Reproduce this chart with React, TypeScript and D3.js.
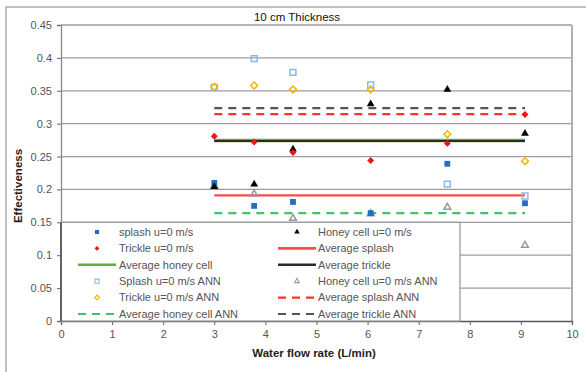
import React, { useEffect, useRef } from 'react';
import * as d3 from 'd3';

// Water flow rates (L/min) at which each cell type was tested
const flowRates = [3, 3.78, 4.54, 6.06, 7.56, 9.08];

// Measured effectiveness
const splash = [0.21, 0.175, 0.181, 0.164, 0.239, 0.179];
const honeyCell = [0.204, 0.208, 0.261, 0.33, 0.352, 0.285];
const trickle = [0.281, 0.272, 0.256, 0.244, 0.27, 0.314];

// ANN predictions
const splashAnn = [0.355, 0.399, 0.378, 0.359, 0.208, 0.19];
const honeyCellAnn = [0.205, 0.193, 0.156, 0.163, 0.173, 0.115];
const trickleAnn = [0.356, 0.358, 0.352, 0.352, 0.284, 0.243];

// Averages, drawn over the tested range
const averageRange = [3, 9.08];
const averageSplash = 0.191;
const averageHoneyCell = 0.2745;
const averageTrickle = 0.2735;
const averageSplashAnn = 0.3145;
const averageHoneyCellAnn = 0.164;
const averageTrickleAnn = 0.3235;

const xTicks = [0, 1, 2, 3, 4, 5, 6, 7, 8, 9, 10];
const yTicks = [0, 0.05, 0.1, 0.15, 0.2, 0.25, 0.3, 0.35, 0.4, 0.45];

const legendLabels = [
  'splash u=0 m/s',
  'Honey cell u=0 m/s',
  'Trickle u=0 m/s',
  'Average splash',
  'Average honey cell',
  'Average trickle',
  'Splash u=0 m/s ANN',
  'Honey cell u=0 m/s ANN',
  'Trickle u=0 m/s ANN',
  'Average splash ANN',
  'Average honey cell ANN',
  'Average trickle ANN',
];

const FONT = 'Liberation Sans, Arial, sans-serif';

const App = () => {
  const svgRef = useRef<SVGSVGElement>(null);
  const width = 586;
  const height = 372;

  useEffect(() => {
    const svg = d3.select(svgRef.current);
    svg.selectAll('*').remove();

    const x = d3.scaleLinear().domain([0, 10]).range([61, 572]);
    const y = d3.scaleLinear().domain([0, 0.45]).range([321, 25]);

    // outer chart border (runs off the picture on the right and bottom)
    svg
      .append('rect')
      .attr('x', 6)
      .attr('y', 7)
      .attr('width', 620)
      .attr('height', 400)
      .attr('fill', 'white')
      .attr('stroke', '#9a9a9a')
      .attr('stroke-width', 1.2);

    // title
    svg
      .append('text')
      .attr('x', 297)
      .attr('y', 21)
      .attr('text-anchor', 'middle')
      .style('font-family', FONT)
      .style('font-size', '11.5px')
      .style('fill', '#111')
      .text('10 cm Thickness');

    // gridlines
    svg
      .append('g')
      .selectAll('line')
      .data(yTicks.filter((t) => t > 0))
      .enter()
      .append('line')
      .attr('x1', x(0))
      .attr('x2', x(10))
      .attr('y1', (d) => y(d))
      .attr('y2', (d) => y(d))
      .attr('stroke', '#9c9c9c')
      .attr('stroke-width', 1.3);

    // plot area right border
    svg
      .append('line')
      .attr('x1', x(10))
      .attr('x2', x(10))
      .attr('y1', y(0.45))
      .attr('y2', y(0))
      .attr('stroke', '#b0b0b0')
      .attr('stroke-width', 2);

    // y axis
    const yAxis = svg
      .append('g')
      .attr('transform', `translate(${x(0)},0)`)
      .call(
        d3
          .axisLeft(y)
          .tickValues(yTicks)
          .tickSize(4)
          .tickPadding(5)
          .tickFormat((d) => `${+(+d).toFixed(2)}`)
      );
    yAxis.select('.domain').attr('stroke', '#8a8a8a').attr('stroke-width', 1.3);
    yAxis.selectAll('.tick line').attr('stroke', '#666');
    yAxis
      .selectAll('.tick text')
      .style('font-family', FONT)
      .style('font-size', '11px')
      .style('fill', '#555');

    // x axis
    const xAxis = svg
      .append('g')
      .attr('transform', `translate(0,${y(0)})`)
      .call(d3.axisBottom(x).tickValues(xTicks).tickSize(4).tickPadding(5));
    xAxis.select('.domain').attr('stroke', '#555').attr('stroke-width', 1.3);
    xAxis.selectAll('.tick line').attr('stroke', '#666');
    xAxis
      .selectAll('.tick text')
      .style('font-family', FONT)
      .style('font-size', '11px')
      .style('fill', '#555');

    // axis titles
    svg
      .append('text')
      .attr('x', 314)
      .attr('y', 357)
      .attr('text-anchor', 'middle')
      .style('font-family', FONT)
      .style('font-size', '11.5px')
      .style('font-weight', 'bold')
      .style('fill', '#222')
      .text('Water flow rate (L/min)');

    svg
      .append('text')
      .attr('transform', 'translate(22,186) rotate(-90)')
      .attr('text-anchor', 'middle')
      .style('font-family', FONT)
      .style('font-size', '11.5px')
      .style('font-weight', 'bold')
      .style('fill', '#222')
      .text('Effectiveness');

    // legend box sits inside the plot, hiding the lower gridlines
    const legendLeft = x(0);
    const legendRight = 460;
    const legendTop = y(0.15);
    svg
      .append('rect')
      .attr('x', legendLeft)
      .attr('y', legendTop)
      .attr('width', legendRight - legendLeft)
      .attr('height', y(0) - legendTop)
      .attr('fill', 'white')
      .attr('stroke', '#9c9c9c')
      .attr('stroke-width', 1.3);
    svg
      .append('line')
      .attr('x1', legendLeft)
      .attr('x2', legendLeft)
      .attr('y1', legendTop)
      .attr('y2', y(0))
      .attr('stroke', '#444')
      .attr('stroke-width', 1.5);

    // series styling, in legend order (diamonds are squares turned 45deg)
    const styles: any[] = [
      { shape: d3.symbolSquare, fill: '#1f6fc4', stroke: 'none', size: 34, rot: 0 },
      { shape: d3.symbolTriangle, fill: '#000', stroke: 'none', size: 26, rot: 0 },
      { shape: d3.symbolSquare, fill: '#ff1010', stroke: 'none', size: 24, rot: 45 },
      { line: '#ff4a4a', width: 2.2, dash: null },
      { line: '#6aaa3a', width: 3.5, dash: null },
      { line: '#2a2a2a', width: 2, dash: null },
      { shape: d3.symbolSquare, fill: 'none', stroke: '#8cb8e6', size: 34, rot: 0 },
      { shape: d3.symbolTriangle, fill: 'none', stroke: '#9a9a9a', size: 20, rot: 0 },
      { shape: d3.symbolSquare, fill: 'none', stroke: '#f4b400', size: 24, rot: 45 },
      { line: '#ff3030', width: 2.2, dash: '8,6' },
      { line: '#3cc468', width: 2.2, dash: '8,6' },
      { line: '#555', width: 2.2, dash: '8,6' },
    ];

    const scatter = [
      { values: honeyCellAnn, style: styles[7] },
      { values: splashAnn, style: styles[6] },
      { values: trickleAnn, style: styles[8] },
      { values: splash, style: styles[0] },
      { values: honeyCell, style: styles[1] },
      { values: trickle, style: styles[2] },
    ];

    const averages = [
      { value: averageSplash, style: styles[3] },
      { value: averageHoneyCell, style: styles[4] },
      { value: averageTrickle, style: styles[5] },
      { value: averageSplashAnn, style: styles[9] },
      { value: averageHoneyCellAnn, style: styles[10] },
      { value: averageTrickleAnn, style: styles[11] },
    ];

    const line = d3
      .line<number>()
      .x((d) => x(d))
      .y(0);

    averages.forEach((a) => {
      svg
        .append('path')
        .attr('d', line(averageRange))
        .attr('transform', `translate(0,${y(a.value)})`)
        .attr('fill', 'none')
        .attr('stroke', a.style.line)
        .attr('stroke-width', a.style.width)
        .attr('stroke-dasharray', a.style.dash);
    });

    scatter.forEach((s) => {
      const sym = d3.symbol().type(s.style.shape).size(s.style.size);
      svg
        .append('g')
        .selectAll('path')
        .data(s.values)
        .enter()
        .append('path')
        .attr('d', sym)
        .attr(
          'transform',
          (d, i) => `translate(${x(flowRates[i])},${y(d)}) rotate(${s.style.rot})`
        )
        .attr('fill', s.style.fill)
        .attr('stroke', s.style.stroke)
        .attr('stroke-width', 1.5);
    });

    // legend entries, two columns
    const columns = [
      { sampleX1: 78, sampleX2: 116, textX: 119 },
      { sampleX1: 278, sampleX2: 316, textX: 318 },
    ];
    const legend = svg.append('g');
    legendLabels.forEach((label, i) => {
      const col = columns[i % 2];
      const rowY = 232 + Math.floor(i / 2) * 16.4;
      const st = styles[i];
      if (st.shape) {
        legend
          .append('path')
          .attr('d', d3.symbol().type(st.shape).size(st.size * 0.5)())
          .attr(
            'transform',
            `translate(${(col.sampleX1 + col.sampleX2) / 2},${rowY}) rotate(${st.rot})`
          )
          .attr('fill', st.fill)
          .attr('stroke', st.stroke)
          .attr('stroke-width', 1.1);
      } else {
        legend
          .append('line')
          .attr('x1', col.sampleX1)
          .attr('x2', col.sampleX2)
          .attr('y1', rowY)
          .attr('y2', rowY)
          .attr('stroke', st.line)
          .attr('stroke-width', st.dash ? 2.2 : 2.6)
          .attr('stroke-dasharray', st.dash);
      }
      legend
        .append('text')
        .attr('x', col.textX)
        .attr('y', rowY)
        .attr('dy', '0.35em')
        .style('font-family', FONT)
        .style('font-size', '11px')
        .style('fill', '#555')
        .text(label);
    });
  }, []);

  return (
    <svg
      ref={svgRef}
      width={width}
      height={height}
      style={{ position: 'absolute', left: 0, top: 0, display: 'block', background: 'white' }}
    />
  );
};

export default App;
